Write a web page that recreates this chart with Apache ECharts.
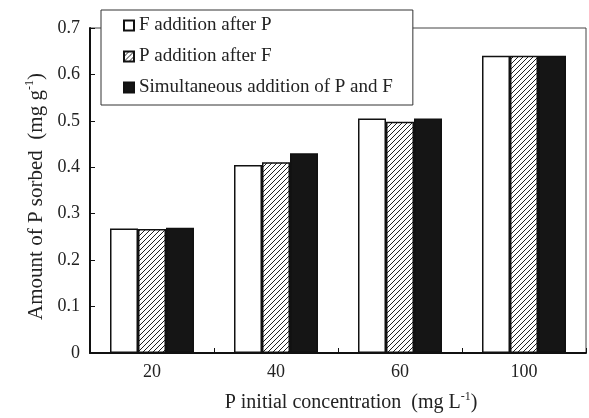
<!DOCTYPE html>
<html>
<head>
<meta charset="utf-8">
<script src="https://cdn.jsdelivr.net/npm/echarts@6/dist/echarts.min.js"></script>
<style>
  html, body { margin: 0; padding: 0; background: #fff; }
  #chart { width: 589px; height: 418px; }
</style>
</head>
<body>
<div id="chart"></div>
<script>
const categories = ['20', '40', '60', '100']
const fAfterP = [0.268, 0.405, 0.505, 0.640]
const pAfterF = [0.267, 0.411, 0.498, 0.640]
const simultaneous = [0.270, 0.430, 0.505, 0.640]
const seriesNames = ['F addition after P', 'P addition after F', 'Simultaneous addition of P and F']

const FONT = '"Liberation Serif", "DejaVu Serif", serif'

// hatched fill: thin diagonal lines
const makeHatch = () => {
  const c = document.createElement('canvas')
  c.width = 5
  c.height = 5
  const ctx = c.getContext('2d')
  ctx.fillStyle = '#fff'
  ctx.fillRect(0, 0, 5, 5)
  ctx.strokeStyle = '#222'
  ctx.lineWidth = 1
  ctx.beginPath()
  ctx.moveTo(-1, 6); ctx.lineTo(6, -1)
  ctx.moveTo(-1, 1); ctx.lineTo(1, -1)
  ctx.moveTo(4, 6); ctx.lineTo(6, 4)
  ctx.stroke()
  return c
}

const chart = echarts.init(document.getElementById('chart'))

const barStyle = (fill) => ({
  color: fill,
  borderColor: '#111',
  borderWidth: 1.5
})

const titleRich = (size) => ({
  a: { fontFamily: FONT, fontSize: size, color: '#222', lineHeight: 24 },
  s: { fontFamily: FONT, fontSize: 12, color: '#222', lineHeight: 24, verticalAlign: 'top' }
})

const option = {
  backgroundColor: '#fff',
  animation: false,
  textStyle: { fontFamily: FONT, color: '#222' },
  grid: {
    left: 90, right: 3, top: 28, bottom: 65,
    show: true, borderColor: '#444', borderWidth: 1
  },
  legend: {
    orient: 'vertical',
    left: 101,
    top: 10,
    icon: 'rect',
    itemWidth: 10,
    itemHeight: 10,
    itemGap: 12,
    padding: [6, 20, 8, 22],
    backgroundColor: '#fff',
    borderColor: '#333',
    borderWidth: 1,
    borderRadius: 0,
    textStyle: { fontFamily: FONT, fontSize: 19, color: '#222' },
    data: seriesNames
  },
  xAxis: {
    type: 'category',
    data: categories,
    axisLine: { lineStyle: { color: '#111', width: 2 } },
    axisTick: { show: true, inside: true, length: 5, alignWithLabel: false, lineStyle: { color: '#111' } },
    axisLabel: { fontFamily: FONT, fontSize: 18, color: '#222', margin: 10 },
    name: '{a|P initial concentration  (mg L}{s|-1}{a|)}',
    nameLocation: 'middle',
    nameGap: 38,
    nameTextStyle: { rich: titleRich(20), padding: [0, 0, 0, 26] }
  },
  yAxis: {
    type: 'value',
    min: 0,
    max: 0.7,
    interval: 0.1,
    splitLine: { show: false },
    axisLine: { show: true, lineStyle: { color: '#111', width: 2 } },
    axisTick: { show: true, inside: true, length: 5, lineStyle: { color: '#111' } },
    axisLabel: { fontFamily: FONT, fontSize: 18, color: '#222', margin: 10 },
    name: '{a|Amount of P sorbed  (mg g}{s|-1}{a|)}',
    nameLocation: 'middle',
    nameGap: 42,
    nameTextStyle: { rich: titleRich(21), padding: [0, 12, 0, 0] }
  },
  series: [
    {
      name: seriesNames[0],
      type: 'bar',
      barWidth: 28,
      barGap: '0%',
      itemStyle: barStyle('#fff'),
      data: fAfterP
    },
    {
      name: seriesNames[1],
      type: 'bar',
      barWidth: 28,
      barGap: '0%',
      itemStyle: barStyle({ image: makeHatch(), repeat: 'repeat' }),
      data: pAfterF
    },
    {
      name: seriesNames[2],
      type: 'bar',
      barWidth: 28,
      barGap: '0%',
      itemStyle: barStyle('#151515'),
      data: simultaneous
    }
  ]
}

chart.setOption(option)
</script>
</body>
</html>
